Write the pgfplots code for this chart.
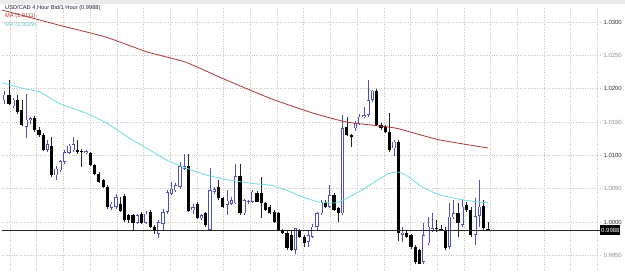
\documentclass[border=0pt]{standalone}
\usepackage{pgfplots}
\usepackage{pgfplotstable}
\pgfplotsset{compat=1.18}
\usepackage{fontspec}
\setmainfont{Liberation Sans}
\definecolor{bullblue}{RGB}{80,80,185}
\definecolor{mared}{RGB}{175,55,50}
\definecolor{macyan}{RGB}{110,220,225}
\definecolor{gridc}{RGB}{200,200,190}

% bullish (hollow) candles: index open high low close
\pgfplotstableread{
i o h l c
0 1.01825 1.01965 1.01775 1.01910
2 1.01735 1.01865 1.01715 1.01835
5 1.01425 1.01915 1.01265 1.01535
6 1.01525 1.01575 1.01465 1.01555
10 1.01085 1.01225 1.01050 1.01165
12 1.00700 1.00835 1.00635 1.00800
13 1.00775 1.00935 1.00755 1.00910
14 1.00900 1.01075 1.00875 1.01050
15 1.01035 1.01175 1.01015 1.01145
16 1.01075 1.01275 1.01045 1.01165
19 1.01035 1.01085 1.01015 1.01065
25 1.00215 1.00300 1.00175 1.00275
26 1.00225 1.00425 1.00200 1.00375
31 0.99985 1.00125 0.99965 1.00100
33 0.99985 1.00165 0.99965 1.00125
36 0.99825 1.00025 0.99765 1.00000
37 0.99975 1.00200 0.99875 1.00150
38 1.00150 1.00475 1.00125 1.00450
39 1.00425 1.00600 1.00400 1.00500
40 1.00475 1.00585 1.00450 1.00550
41 1.00525 1.00900 1.00500 1.00840
42 1.00800 1.01015 1.00785 1.00835
44 1.00175 1.00275 1.00125 1.00225
46 1.00055 1.00125 1.00035 1.00105
48 0.99880 1.00805 0.99865 1.00480
49 1.00455 1.00525 1.00425 1.00490
52 1.00255 1.00480 1.00105 1.00320
53 1.00275 1.00375 1.00250 1.00325
54 1.00280 1.00870 1.00265 1.00690
56 1.00130 1.00350 1.00100 1.00325
57 1.00295 1.00335 1.00275 1.00315
58 1.00305 1.00485 1.00285 1.00455
68 0.99580 0.99915 0.99515 0.99905
71 0.99705 0.99880 0.99630 0.99805
72 0.99780 0.99975 0.99765 0.99930
73 0.99930 1.00155 0.99885 1.00130
74 1.00130 1.00335 1.00100 1.00305
76 1.00230 1.00555 1.00205 1.00405
79 1.00130 1.01605 1.00105 1.01405
82 1.01405 1.01515 1.01365 1.01480
83 1.01480 1.01625 1.01455 1.01580
84 1.01580 1.01725 1.01555 1.01605
85 1.01605 1.02130 1.01575 1.01830
86 1.01830 1.01985 1.01805 1.01970
91 1.01105 1.01225 1.00985 1.01205
93 0.99805 0.99925 0.99705 0.99840
98 0.99405 0.99980 0.99375 0.99805
99 0.99680 1.00080 0.99650 0.99930
100 0.99880 1.00130 0.99850 0.99905
104 0.99630 1.00280 0.99600 1.00080
105 1.00070 1.00325 1.00050 1.00130
107 0.99955 1.00325 0.99925 1.00230
110 0.99805 1.00355 0.99655 1.00090
111 1.00090 1.00630 0.99930 1.00230
}\bull

% bearish (filled) candles: index open high low close
\pgfplotstableread{
i o h l c
1 1.01910 1.02125 1.01750 1.01765
3 1.01835 1.01900 1.01625 1.01650
4 1.01675 1.01825 1.01435 1.01450
7 1.01565 1.01585 1.01355 1.01375
8 1.01375 1.01425 1.01275 1.01300
9 1.01300 1.01335 1.01065 1.01075
11 1.01135 1.01275 1.00675 1.00700
17 1.01075 1.01235 1.01025 1.01045
18 1.01065 1.01100 1.00825 1.01050
20 1.01035 1.01050 1.00835 1.00850
21 1.00850 1.00875 1.00700 1.00725
22 1.00725 1.00750 1.00585 1.00600
23 1.00625 1.00650 1.00515 1.00525
24 1.00525 1.00550 1.00200 1.00225
27 1.00265 1.00375 1.00145 1.00160
28 1.00385 1.00425 1.00000 1.00025
29 1.00100 1.00125 0.99985 1.00025
30 1.00100 1.00125 0.99875 0.99985
32 1.00125 1.00150 0.99965 0.99985
34 1.00150 1.00175 0.99915 0.99925
35 0.99925 0.99950 0.99825 0.99885
43 1.00835 1.01015 1.00145 1.00160
45 1.00265 1.00295 1.00045 1.00065
47 1.00130 1.00150 0.99925 0.99955
50 1.00520 1.00630 1.00325 1.00355
51 1.00355 1.00375 1.00215 1.00230
55 1.00690 1.00870 1.00100 1.00130
59 1.00440 1.00465 1.00295 1.00305
60 1.00430 1.00680 1.00055 1.00280
61 1.00280 1.00305 1.00165 1.00180
62 1.00230 1.00255 1.00115 1.00130
63 1.00155 1.00175 0.99985 1.00005
64 1.00130 1.00150 0.99865 0.99880
65 0.99880 0.99900 0.99815 0.99830
66 0.99830 0.99860 0.99585 0.99605
67 0.99805 0.99885 0.99565 0.99580
69 0.99880 0.99900 0.99765 0.99780
70 0.99780 0.99800 0.99625 0.99690
75 1.00305 1.00335 1.00215 1.00230
77 1.00405 1.00435 1.00165 1.00180
78 1.00205 1.00225 1.00005 1.00140
80 1.01430 1.01575 1.01285 1.01305
81 1.01305 1.01325 1.01130 1.01280
87 1.01970 1.02000 1.01435 1.01455
88 1.01455 1.01485 1.01385 1.01405
89 1.01430 1.01455 1.01335 1.01355
90 1.01355 1.01630 1.01050 1.01080
92 1.01205 1.01225 0.99715 0.99830
94 0.99830 0.99875 0.99765 0.99780
95 0.99805 0.99825 0.99600 0.99630
96 0.99630 0.99650 0.99375 0.99405
97 0.99580 0.99600 0.99365 0.99375
101 0.99905 1.00025 0.99850 0.99890
102 0.99900 0.99950 0.99865 0.99885
103 0.99880 0.99925 0.99575 0.99605
106 1.00130 1.00280 0.99780 0.99980
108 1.00255 1.00300 1.00150 1.00180
109 1.00180 1.00225 0.99775 0.99805
112 1.00240 1.00330 0.99875 0.99905
113 0.99890 1.00005 0.99880 0.99880
}\bear

\pgfplotsset{
  candle/.style args={#1/#2}{draw=none, mark=none, forget plot,
    error bars/.cd, y dir=plus, y explicit, error mark=none,
    error bar style={draw=#1, line width=#2, solid}},
}

\begin{document}
\begin{tikzpicture}
\useasboundingbox (0,0) rectangle (625bp,273bp);
\fill[black!8] (0,268.5bp) rectangle (625bp,273bp);
\begin{axis}[
  at={(2bp,3bp)}, anchor=south west,
  scale only axis, width=598bp, height=264bp,
  xmin=-0.65, xmax=139.2, ymin=0.9928, ymax=1.0324,
  axis line style={draw=none},
  clip=false,
  xtick={1.22,7.464,...,139}, xticklabels={},
  ytick={0.995,1.000,1.005,1.010,1.015,1.020,1.025,1.030},
  yticklabels={{\color{black!45}0.9950},{\color{black!80}1.0000},{\color{black!45}1.0050},{\color{black!80}1.0100},{\color{black!45}1.0150},{\color{black!80}1.0200},{\color{black!45}1.0250},{\color{black!80}1.0300}},
  yticklabel pos=right,
  yticklabel style={font=\fontsize{6}{7}\selectfont, anchor=west, xshift=0bp},
  major tick length=0pt,
  grid=major,
  grid style={draw=gridc, line width=0.5bp, dash pattern=on 0.8bp off 1.6bp},
]
% wicks
\addplot[candle={bullblue/0.7bp}]
  table[x=i, y=l, y error plus expr=\thisrow{h}-\thisrow{l}] {\bull};
\addplot[candle={black!85/0.7bp}]
  table[x=i, y=l, y error plus expr=\thisrow{h}-\thisrow{l}] {\bear};
% bodies
\addplot[candle={black/3.2bp}]
  table[x=i, y=c, y error plus expr=\thisrow{o}-\thisrow{c}] {\bear};
\addplot[candle={bullblue/3.2bp}]
  table[x=i, y=o, y error plus expr=\thisrow{c}-\thisrow{o}] {\bull};
\addplot[candle={white/1.8bp}]
  table[x=i, y expr=\thisrow{o}+0.0001, y error plus expr={max(\thisrow{c}-\thisrow{o}-0.0002,0)}] {\bull};
% moving averages
\addplot[mared, line width=0.8bp, smooth, tension=0.3] coordinates {
(-0.65,1.0318) (12.86,1.0295) (23.58,1.02775) (33.35,1.0255) (42.2,1.0240) (51.06,1.0215)
(62.24,1.0185) (72.48,1.01625) (79.94,1.0150) (88.3,1.01435) (92.05,1.0140) (101.4,1.01235) (113,1.0111)};
\addplot[macyan, line width=0.8bp, smooth, tension=0.3] coordinates {
(-0.65,1.0209) (4.47,1.0200) (8.19,1.0195) (12.86,1.01775) (19.37,1.01625) (24.05,1.01475)
(28.7,1.01275) (33.35,1.0110) (38.0,1.00925) (41.75,1.00825) (47.34,1.0070) (52.92,1.00625)
(58.5,1.00575) (62.24,1.0055) (65.97,1.00475) (69.7,1.00375) (73.4,1.0030) (77.15,1.00285)
(79.0,1.00325) (82.74,1.0045) (86.46,1.0060) (89.7,1.00725) (92.05,1.0075) (93.9,1.0070)
(97.64,1.00525) (101.4,1.00415) (106.0,1.00345) (110.7,1.0030) (113,1.0029)};
% current price line
\addplot[black!85, line width=0.7bp] coordinates {(-0.65,0.9988) (139.2,0.9988)};
\node[fill=black, text=white, anchor=west, inner sep=1bp, minimum height=9bp, font=\fontsize{6}{7}\selectfont] at (axis cs:139.2,0.9988) {0.9988};
\end{axis}
\node[anchor=north west, inner sep=0pt, text={rgb,255:red,30;green,30;blue,60}, font=\fontsize{5.7}{6.5}\selectfont] at (5bp,267.5bp) {USD/CAD 4 Hour Bid/1 Hour (0.9988)};
\node[anchor=north west, inner sep=0pt, text=mared, font=\fontsize{5.7}{6.5}\selectfont] at (5bp,259.5bp) {MA (1.0111)};
\node[anchor=north west, inner sep=0pt, text=macyan!90!black, font=\fontsize{5.7}{6.5}\selectfont] at (5bp,251bp) {MA (1.0029)};
\end{tikzpicture}
\end{document}
